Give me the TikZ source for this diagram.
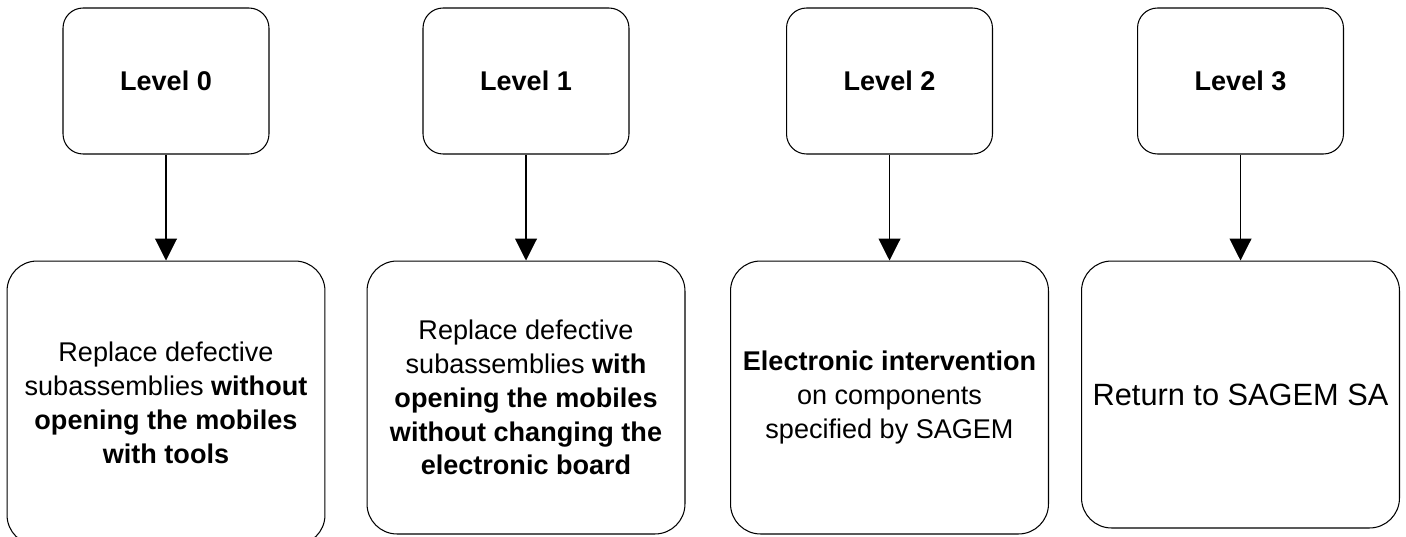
\documentclass[tikz,border=0pt]{standalone}
\usepackage{fontspec}
\setmainfont{Liberation Sans}
\usetikzlibrary{shapes, arrows.meta, positioning}
\tikzstyle{level} = [rectangle, rounded corners=0.4cm, minimum width=4.12cm, minimum height=2.92cm, draw=black, line width=0.6pt, font=\bfseries\fontsize{15.4}{19.3}\selectfont]
\tikzstyle{task} = [rectangle, rounded corners=0.6cm, minimum width=6.36cm, minimum height=5.46cm, draw=black, line width=0.6pt, align=center, inner sep=0pt, font=\fontsize{15.4}{19.3}\selectfont]
\tikzstyle{arrow} = [line width=0.6pt, -{Triangle[width=0.44cm, length=0.44cm]}]

\begin{document}
\begin{tikzpicture}[x=0.02cm, y=-0.02cm]
	\useasboundingbox (0,0) rectangle (1406,537);
	\node [level] (level0) at (166, 81) {Level 0};
	\node [level] (level1) at (526, 81) {Level 1};
	\node [level] (level2) at (889.5, 81) {Level 2};
	\node [level] (level3) at (1240.5, 81) {Level 3};
	\node [task, minimum height=5.68cm] (task0) at (166, 403) {Replace defective\\subassemblies \textbf{without}\\\textbf{opening the mobiles}\\\textbf{with tools}};
	\node [task] (task1) at (526, 397.5) {Replace defective\\subassemblies \textbf{with}\\\textbf{opening the mobiles}\\\textbf{without changing the}\\\textbf{electronic board}};
	\node [task] (task2) at (889.5, 397.5) {\textbf{Electronic intervention}\\on components\\specified by SAGEM};
	\node [task, minimum height=5.34cm, font=\fontsize{17.5}{21}\selectfont] (task3) at (1240.5, 394.5) {Return to SAGEM SA};
	\draw [arrow] (level0.south) -- (task0.north);
	\draw [arrow] (level1.south) -- (task1.north);
	\draw [arrow] (level2.south) -- (task2.north);
	\draw [arrow] (level3.south) -- (task3.north);
\end{tikzpicture}
\end{document}
